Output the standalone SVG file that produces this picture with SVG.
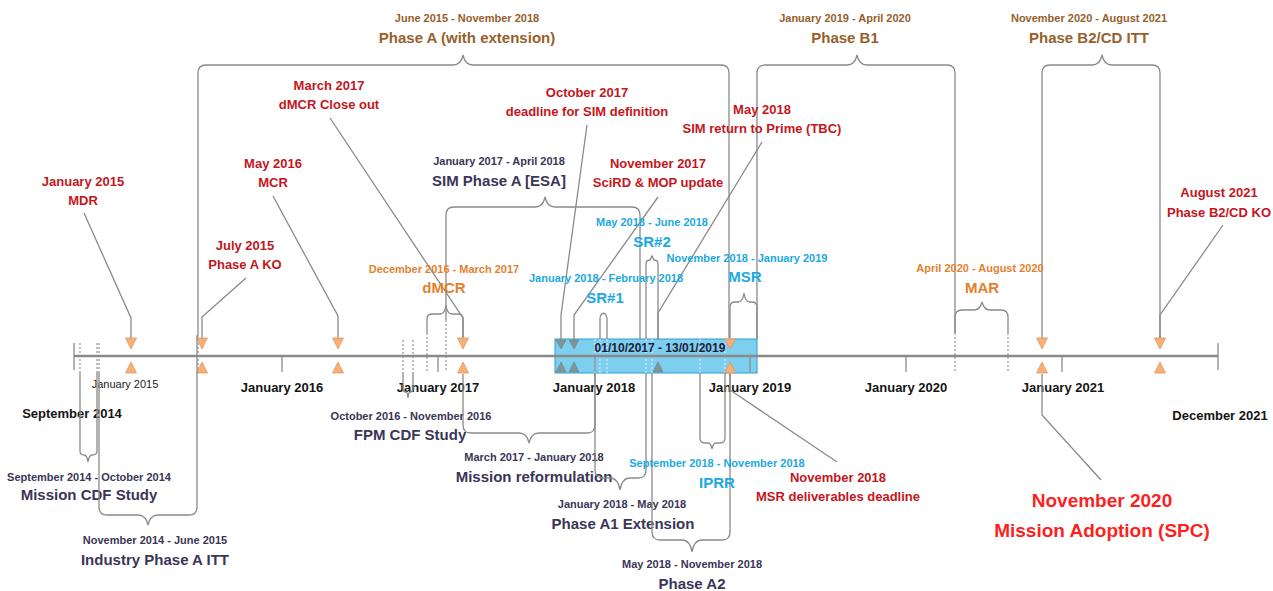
<svg xmlns="http://www.w3.org/2000/svg" width="1273" height="591" viewBox="0 0 1273 591">
<defs>
<style>
text{font-family:"Liberation Sans",Arial,sans-serif;text-anchor:middle;font-weight:bold}
.ln{fill:none;stroke:#8a8a8a;stroke-width:1.3}
.dot{fill:none;stroke:#8a8a8a;stroke-width:1.1;stroke-dasharray:2 2}
.bdot{fill:none;stroke:#e6f5fb;stroke-width:1;stroke-dasharray:2 2}
.d{font-size:11px}
.t{font-size:15px}
.brown{fill:#96602c}
.red{fill:#c4161c;font-size:13px}
.big{fill:#ff1f1f;font-size:19px}
.dark{fill:#3b3557}
.cyan{fill:#1ba9e1}
.orange{fill:#e57f2d}
.ax{fill:#141414;font-size:13px}
.tri{fill:#f5b07a;stroke:#e8955a;stroke-width:0.8}
.gtri{fill:#7f9597;stroke:#6d8385;stroke-width:0.6}
</style>
</defs>
<rect width="1273" height="591" fill="#ffffff"/>

<!-- timeline -->
<g id="timeline">
<rect x="555" y="339" width="202" height="34" fill="#5cc3ec" fill-opacity="0.8" stroke="#2f9bd0" stroke-width="1"/>
<g class="bdot">
<line x1="595" y1="339" x2="595" y2="373"/><line x1="600" y1="339" x2="600" y2="373"/><line x1="607" y1="339" x2="607" y2="373"/>
<line x1="646" y1="339" x2="646" y2="373"/><line x1="652" y1="339" x2="652" y2="373"/><line x1="700" y1="339" x2="700" y2="373"/><line x1="725" y1="339" x2="725" y2="373"/>
</g>
<line x1="74" y1="356" x2="1218" y2="356" stroke="#8a8a8a" stroke-width="2.4"/>
<g class="ln">
<line x1="74" y1="343" x2="74" y2="370"/><line x1="1218" y1="343" x2="1218" y2="370"/>
<line x1="282" y1="356" x2="282" y2="372"/><line x1="438" y1="356" x2="438" y2="372"/><line x1="595" y1="356" x2="595" y2="372"/>
<line x1="750" y1="356" x2="750" y2="372"/><line x1="906" y1="356" x2="906" y2="372"/><line x1="1062" y1="356" x2="1062" y2="372"/>
</g>
<g class="dot">
<line x1="80" y1="343" x2="80" y2="372"/><line x1="97" y1="343" x2="97" y2="372"/><line x1="99" y1="343" x2="99" y2="372"/>
<line x1="198" y1="335" x2="198" y2="372"/><line x1="403" y1="340" x2="403" y2="372"/><line x1="413" y1="340" x2="413" y2="372"/>
<line x1="427" y1="333" x2="427" y2="372"/><line x1="446" y1="320" x2="446" y2="372"/>
<line x1="955" y1="333" x2="955" y2="372"/><line x1="1008" y1="333" x2="1008" y2="372"/>
</g>
<text x="660" y="352" style="font-size:12px;fill:#1c1c3a">01/10/2017 - 13/01/2019</text>
<text class="ax" x="72" y="418">September 2014</text>
<text x="125" y="388" style="font-size:11px;font-weight:normal;fill:#222">January 2015</text>
<text class="ax" x="282" y="392">January 2016</text>
<text class="ax" x="438" y="392">January 2017</text>
<text class="ax" x="594" y="392">January 2018</text>
<text class="ax" x="750" y="392">January 2019</text>
<text class="ax" x="906" y="392">January 2020</text>
<text class="ax" x="1063" y="392">January 2021</text>
<text class="ax" x="1220" y="420">December 2021</text>
</g>

<!-- connectors / leader lines -->
<g id="connectors" class="ln">
<polyline points="84,213 131,318 131,338"/>
<polyline points="246,278 202,317 202,338"/>
<polyline points="273,196 338,316 338,338"/>
<polyline points="330,118 463,318 463,338"/>
<polyline points="587,125 561,315 561,340"/>
<polyline points="658,197 574,315 574,340"/>
<polyline points="762,142 658,313 658,340"/>
<polyline points="837,462 730,390 730,374"/>
<polyline points="1101,480 1042,415 1042,374"/>
<polyline points="1223,225 1160,315 1160,338"/>
</g>

<!-- milestone markers -->
<g id="markers">
<polygon class="tri" points="125.5,338 136.5,338 131,349"/><polygon class="tri" points="125.5,373 136.5,373 131,362"/>
<polygon class="tri" points="196.5,338 207.5,338 202,349"/><polygon class="tri" points="196.5,373 207.5,373 202,362"/>
<polygon class="tri" points="332.5,338 343.5,338 338,349"/><polygon class="tri" points="332.5,373 343.5,373 338,362"/>
<polygon class="tri" points="457.5,338 468.5,338 463,349"/><polygon class="tri" points="457.5,373 468.5,373 463,362"/>
<polygon class="tri" points="724.5,339 735.5,339 730,349"/><polygon class="tri" points="724.5,373 735.5,373 730,362"/>
<polygon class="tri" points="1036.5,338 1047.5,338 1042,349"/><polygon class="tri" points="1036.5,373 1047.5,373 1042,362"/>
<polygon class="tri" points="1154.5,338 1165.5,338 1160,349"/><polygon class="tri" points="1154.5,373 1165.5,373 1160,362"/>
<polygon class="gtri" points="556,340 566,340 561,349"/><polygon class="gtri" points="556,372 566,372 561,362"/>
<polygon class="gtri" points="569,340 579,340 574,349"/><polygon class="gtri" points="569,372 579,372 574,362"/>
<polygon class="gtri" points="653,372 663,372 658,362"/>
</g>

<!-- top phases -->
<g id="phase-a">
<path class="ln" d="M198,335 V73 Q198,65 206,65 H453 Q461,65 463,55 Q465,65 473,65 H721 Q729,65 729,73 V338"/>
<text class="d brown" x="467" y="22">June 2015 - November 2018</text>
<text class="t brown" x="467" y="43">Phase A (with extension)</text>
</g>
<g id="phase-b1">
<path class="ln" d="M757,339 V73 Q757,65 765,65 H847 Q855,65 857,55 Q859,65 867,65 H947 Q955,65 955,73 V333"/>
<text class="d brown" x="845" y="22">January 2019 - April 2020</text>
<text class="t brown" x="845" y="43">Phase B1</text>
</g>
<g id="phase-b2-itt">
<path class="ln" d="M1042,338 V73 Q1042,65 1050,65 H1092 Q1100,65 1102,55 Q1104,65 1112,65 H1152 Q1160,65 1160,73 V338"/>
<text class="d brown" x="1089" y="22">November 2020 - August 2021</text>
<text class="t brown" x="1089" y="43">Phase B2/CD ITT</text>
</g>

<!-- upper brackets -->
<g id="sim-phase-a">
<path class="ln" d="M446,320 V215 Q446,207 454,207 H535 Q543,207 545,197 Q547,207 555,207 H632 Q640,207 640,215 V339"/>
<text class="d dark" x="499" y="165">January 2017 - April 2018</text>
<text class="t dark" x="499" y="186">SIM Phase A [ESA]</text>
</g>
<g id="dmcr">
<path class="ln" d="M427,333 V319 Q427,314 432,314 H440 Q445,314 446,305 Q447,314 452,314 H458 Q463,314 463,319 V337"/>
<text class="d orange" x="444" y="273">December 2016 - March 2017</text>
<text class="t orange" x="444" y="293">dMCR</text>
</g>
<g id="sr1">
<path class="ln" d="M600,339 V319 Q600,314 603.5,313 Q607,314 607,319 V339"/>
<text class="d cyan" x="606" y="282">January 2018 - February 2018</text>
<text class="t cyan" x="605" y="303">SR#1</text>
</g>
<g id="sr2">
<path class="ln" d="M646,339 V264 Q646,260 650,260 L652,256 L654,260 Q658,260 658,264 V339"/>
<text class="d cyan" x="652" y="226">May 2018 - June 2018</text>
<text class="t cyan" x="652" y="247">SR#2</text>
</g>
<g id="msr">
<path class="ln" d="M730,338 V307 Q730,302 735,302 H738 Q743,302 744,293 Q745,302 750,302 H752 Q757,302 757,307 V339"/>
<text class="d cyan" x="747" y="262">November 2018 - January 2019</text>
<text class="t cyan" x="745" y="282">MSR</text>
</g>
<g id="mar">
<path class="ln" d="M955,333 V317 Q955,310 962,310 H974 Q980,310 982,302 Q984,310 990,310 H1001 Q1008,310 1008,317 V333"/>
<text class="d orange" x="980" y="272">April 2020 - August 2020</text>
<text class="t orange" x="982" y="293">MAR</text>
</g>

<!-- lower brackets -->
<g id="mission-cdf">
<path class="ln" d="M80,372 V451 Q80,455 84,455 Q87,455 88,462 Q89,455 92,455 Q97,455 97,451 V372"/>
<text class="d dark" x="89" y="481">September 2014 - October 2014</text>
<text class="t dark" x="89" y="500">Mission CDF Study</text>
</g>
<g id="industry-itt">
<path class="ln" d="M99,372 V507 Q99,515 107,515 H138 Q146,515 148,525 Q150,515 158,515 H189 Q197,515 197,507 V335"/>
<text class="d dark" x="155" y="544">November 2014 - June 2015</text>
<text class="t dark" x="155" y="565">Industry Phase A ITT</text>
</g>
<g id="fpm-cdf">
<path class="ln" d="M403,372 V389 Q403,392 406,392 Q407.5,392 408,398 Q408.5,392 410,392 Q413,392 413,389 V372"/>
<text class="d dark" x="411" y="420">October 2016 - November 2016</text>
<text class="t dark" x="410" y="440">FPM CDF Study</text>
</g>
<g id="mission-reformulation">
<path class="ln" d="M463,374 V425 Q463,433 471,433 H519 Q527,433 529,443 Q531,433 539,433 H587 Q595,433 595,425 V373"/>
<text class="d dark" x="534" y="461">March 2017 - January 2018</text>
<text class="t dark" x="534" y="482">Mission reformulation</text>
</g>
<g id="phase-a1-ext">
<path class="ln" d="M595,373 V470 Q595,478 603,478 H610 Q618,478 620,490 Q622,478 630,478 H638 Q646,478 646,470 V373"/>
<text class="d dark" x="622" y="508">January 2018 - May 2018</text>
<text class="t dark" x="623" y="529">Phase A1 Extension</text>
</g>
<g id="phase-a2">
<path class="ln" d="M652,373 V532 Q652,540 660,540 H682 Q690,540 692,552 Q694,540 702,540 H722 Q730,540 730,532 V374"/>
<text class="d dark" x="692" y="568">May 2018 - November 2018</text>
<text class="t dark" x="692" y="589">Phase A2</text>
</g>
<g id="iprr">
<path class="ln" d="M700,373 V438 Q700,443 705,443 H708 Q711,443 712,449 Q713,443 716,443 H720 Q725,443 725,438 V373"/>
<text class="d cyan" x="717" y="467">September 2018 - November 2018</text>
<text class="t cyan" x="717" y="488">IPRR</text>
</g>

<!-- milestone labels -->
<g id="mdr"><text class="red" x="83" y="186">January 2015</text><text class="red" x="83" y="205">MDR</text></g>
<g id="phase-a-ko"><text class="red" x="245" y="250">July 2015</text><text class="red" x="245" y="269">Phase A KO</text></g>
<g id="mcr"><text class="red" x="273" y="168">May 2016</text><text class="red" x="273" y="187">MCR</text></g>
<g id="dmcr-closeout"><text class="red" x="329" y="90">March 2017</text><text class="red" x="329" y="109">dMCR Close out</text></g>
<g id="sim-deadline"><text class="red" x="587" y="97">October 2017</text><text class="red" x="587" y="116">deadline for SIM definition</text></g>
<g id="scird-update"><text class="red" x="658" y="168">November 2017</text><text class="red" x="658" y="187">SciRD &amp; MOP update</text></g>
<g id="sim-return"><text class="red" x="762" y="114">May 2018</text><text class="red" x="762" y="133">SIM return to Prime (TBC)</text></g>
<g id="msr-deadline"><text class="red" x="838" y="482">November 2018</text><text class="red" x="838" y="501">MSR deliverables deadline</text></g>
<g id="b2cd-ko"><text class="red" x="1219" y="197">August 2021</text><text class="red" x="1219" y="217">Phase B2/CD KO</text></g>
<g id="mission-adoption"><text class="big" x="1102" y="507">November 2020</text><text class="big" x="1102" y="537">Mission Adoption (SPC)</text></g>
</svg>
